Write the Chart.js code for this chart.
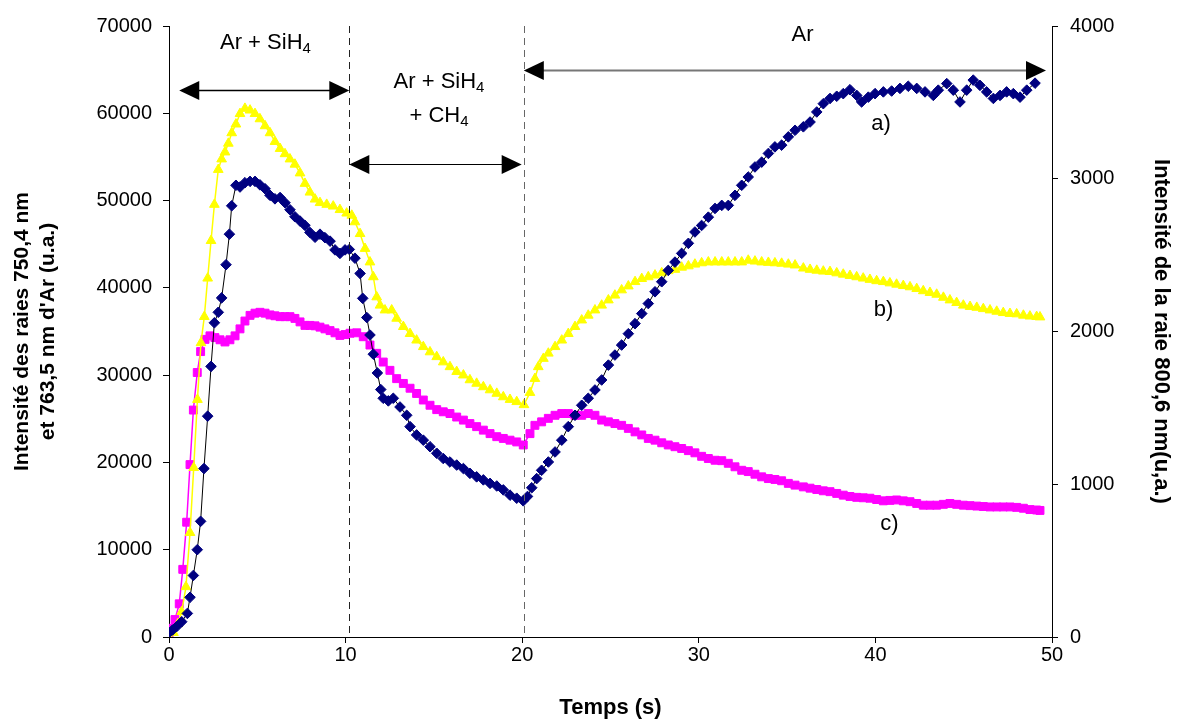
<!DOCTYPE html>
<html>
<head>
<meta charset="utf-8">
<script src="https://cdn.jsdelivr.net/npm/chart.js@4.4.0/dist/chart.umd.min.js"></script>
<style>
html, body { margin: 0; padding: 0; background: #fff; }
#wrap { width: 1189px; height: 724px; position: relative; }
</style>
</head>
<body>
<div id="wrap"><canvas id="plasmaChart"></canvas></div>
<script>
// courbe a) (losanges bleu marine)
const tempsA = [0.0, 0.2, 0.44, 0.72, 1.04, 1.19, 1.38, 1.6, 1.79, 1.98, 2.19, 2.38, 2.57, 2.79, 2.98, 3.23, 3.42, 3.55, 3.79, 4.02,
  4.3, 4.59, 4.87, 5.15, 5.44, 5.72, 6.0, 6.29, 6.57, 6.85, 7.13, 7.42, 7.7, 7.98, 8.27, 8.55, 8.83, 9.12, 9.4, 9.68,
  9.97, 10.21, 10.53, 10.82, 10.97, 11.2, 11.38, 11.57, 11.8, 11.99, 12.13, 12.42, 12.7, 13.08, 13.46, 13.65, 14.02, 14.4, 14.78, 15.16,
  15.53, 15.91, 16.29, 16.67, 17.04, 17.42, 17.8, 18.18, 18.56, 18.93, 19.31, 19.69, 20.06, 20.3, 20.54, 20.82, 21.1, 21.48, 21.86, 22.24,
  22.61, 22.99, 23.37, 23.74, 24.12, 24.5, 24.88, 25.25, 25.63, 26.01, 26.39, 26.77, 27.14, 27.52, 27.9, 28.27, 28.65, 29.03, 29.41, 29.78,
  30.16, 30.54, 30.92, 31.3, 31.67, 32.05, 32.43, 32.8, 33.18, 33.56, 33.94, 34.31, 34.69, 35.07, 35.45, 35.92, 36.3, 36.68, 37.05, 37.43,
  37.81, 38.18, 38.56, 38.94, 39.22, 39.6, 39.98, 40.45, 40.92, 41.39, 41.86, 42.34, 42.81, 43.28, 43.56, 44.04, 44.41, 44.79, 45.17, 45.54,
  45.92, 46.3, 46.68, 47.06, 47.43, 47.81, 48.19, 48.57, 49.04];
const intensA = [500, 800, 1200, 1750, 2700, 4550, 7050, 10000, 13250, 19300, 25300, 31000, 36000, 37200, 38850, 42650, 46150, 49400, 51750, 51550,
  52050, 52200, 52200, 51800, 51350, 50600, 50200, 50350, 49750, 48950, 48150, 47650, 47150, 46350, 45800, 46150, 45750, 45350, 44350, 43950,
  44350, 44400, 43400, 41650, 38800, 36600, 34600, 32400, 30250, 28350, 27350, 27050, 27350, 26350, 25400, 24100, 23150, 22550, 21800, 21050,
  20450, 20050, 19700, 19300, 18750, 18350, 18000, 17600, 17300, 16850, 16250, 15900, 15600, 16100, 17100, 18150, 19100, 20050, 21200, 22550,
  24100, 25400, 26550, 27350, 28300, 29450, 31150, 32300, 33450, 34750, 35900, 37050, 38200, 39550, 40700, 42000, 42950, 43950, 45100, 46400,
  47150, 48100, 49100, 49450, 49450, 50600, 51750, 52700, 53850, 54400, 55400, 56150, 56350, 57300, 58050, 58450, 59000, 60150, 61100, 61700,
  61950, 62250, 62700, 62050, 61300, 61850, 62250, 62450, 62550, 62850, 63100, 62850, 62450, 62050, 62650, 63400, 62650, 61300, 62650, 63800,
  63200, 62450, 61700, 62050, 62450, 62250, 61850, 62650, 63450];

// courbe b) (triangles jaunes)
const tempsB = [0.0, 0.25, 0.5, 0.72, 0.96, 1.19, 1.4, 1.61, 1.81, 2.0, 2.19, 2.38, 2.57, 2.79, 2.98, 3.17, 3.36, 3.55, 3.79, 4.02,
  4.3, 4.59, 4.87, 5.15, 5.44, 5.72, 6.0, 6.29, 6.57, 6.85, 7.13, 7.42, 7.7, 7.98, 8.27, 8.55, 8.93, 9.3, 9.68, 10.06,
  10.35, 10.53, 10.82, 11.1, 11.38, 11.57, 11.76, 11.95, 12.23, 12.61, 12.89, 13.27, 13.65, 14.02, 14.4, 14.78, 15.16, 15.53, 15.91, 16.29,
  16.67, 17.04, 17.42, 17.8, 18.18, 18.56, 18.93, 19.31, 19.69, 20.1, 20.44, 20.72, 20.91, 21.2, 21.48, 21.86, 22.24, 22.61, 22.99, 23.37,
  23.74, 24.12, 24.5, 24.88, 25.25, 25.63, 26.01, 26.39, 26.77, 27.14, 27.52, 27.9, 28.27, 28.65, 29.03, 29.41, 29.78, 30.16, 30.54, 30.92,
  31.3, 31.67, 32.05, 32.43, 32.8, 33.18, 33.56, 33.94, 34.31, 34.69, 35.07, 35.45, 35.92, 36.3, 36.68, 37.05, 37.43, 37.81, 38.18, 38.56,
  38.94, 39.31, 39.69, 40.07, 40.45, 40.82, 41.2, 41.58, 41.96, 42.34, 42.71, 43.09, 43.47, 43.85, 44.22, 44.6, 44.98, 45.36, 45.74, 46.11,
  46.49, 46.87, 47.24, 47.62, 48.0, 48.38, 48.75, 49.13, 49.32];
const intensB = [0, 500, 1500, 2900, 5750, 11950, 19400, 27200, 33700, 36700, 41100, 45400, 49550, 53550, 54750, 55550, 56550, 57750, 58750, 59950,
  60550, 60350, 59950, 59350, 58550, 57750, 56750, 55950, 55350, 54750, 54150, 53150, 51950, 50950, 50150, 49750, 49550, 49350, 48950, 48550,
  48300, 47550, 46200, 44500, 42950, 41250, 38950, 38000, 37450, 37450, 36500, 35550, 34750, 34000, 33250, 32650, 32100, 31500, 30950, 30400,
  30000, 29450, 29050, 28650, 28300, 27900, 27500, 27200, 26950, 26600, 28000, 29600, 30950, 31900, 32500, 33250, 34000, 34750, 35550, 36300,
  36850, 37450, 38000, 38600, 39150, 39750, 40200, 40700, 41050, 41250, 41450, 41700, 41950, 42100, 42350, 42500, 42700, 42850, 42950, 42950,
  42950, 42950, 42950, 42950, 43150, 43050, 42950, 42900, 42850, 42800, 42700, 42600, 42250, 42100, 42000, 41900, 41850, 41700, 41550, 41400,
  41250, 41100, 40950, 40800, 40700, 40550, 40400, 40250, 40100, 39900, 39650, 39450, 39250, 38900, 38600, 38300, 38000, 37850, 37750, 37600,
  37450, 37300, 37150, 37050, 37000, 36850, 36750, 36700, 36650];

// courbe c) (carrés magenta)
const tempsC = [0.0, 0.15, 0.34, 0.58, 0.78, 1.0, 1.19, 1.38, 1.6, 1.79, 2.04, 2.32, 2.6, 2.89, 3.17, 3.45, 3.74, 4.02, 4.3, 4.59,
  4.87, 5.15, 5.44, 5.72, 6.0, 6.29, 6.57, 6.85, 7.13, 7.42, 7.7, 7.98, 8.27, 8.55, 8.83, 9.12, 9.4, 9.68, 9.97, 10.25,
  10.63, 11.0, 11.38, 11.76, 12.13, 12.51, 12.89, 13.27, 13.65, 14.02, 14.4, 14.78, 15.16, 15.53, 15.91, 16.29, 16.67, 17.04, 17.42, 17.8,
  18.18, 18.56, 18.93, 19.31, 19.69, 20.06, 20.44, 20.72, 21.1, 21.48, 21.86, 22.24, 22.61, 22.99, 23.37, 23.74, 24.12, 24.5, 24.88, 25.25,
  25.63, 26.01, 26.39, 26.77, 27.14, 27.52, 27.9, 28.27, 28.65, 29.03, 29.41, 29.78, 30.16, 30.54, 30.92, 31.3, 31.67, 32.05, 32.43, 32.8,
  33.18, 33.56, 33.94, 34.31, 34.69, 35.07, 35.45, 35.92, 36.3, 36.68, 37.05, 37.43, 37.81, 38.18, 38.56, 38.94, 39.31, 39.69, 40.07, 40.45,
  40.82, 41.2, 41.58, 41.96, 42.34, 42.71, 43.09, 43.47, 43.85, 44.22, 44.6, 44.98, 45.36, 45.74, 46.11, 46.49, 46.87, 47.24, 47.62, 48.0,
  48.38, 48.75, 49.13, 49.32];
const intensC = [300, 1000, 2000, 3800, 7750, 13150, 19750, 26000, 30300, 32700, 34100, 34500, 34300, 34050, 33800, 34050, 34500, 35300, 36200, 36850,
  37100, 37200, 37100, 36900, 36800, 36700, 36700, 36700, 36500, 36100, 35700, 35700, 35650, 35500, 35300, 35100, 34850, 34550, 34650, 34800,
  34850, 34400, 33450, 32500, 31500, 30550, 29600, 29050, 28500, 27900, 27150, 26550, 26050, 25800, 25600, 25200, 24850, 24450, 24100, 23700,
  23300, 22950, 22750, 22550, 22350, 22000, 23300, 24250, 24650, 25050, 25400, 25600, 25600, 25400, 25400, 25600, 25400, 24850, 24650, 24450,
  24250, 23900, 23500, 23150, 22750, 22550, 22250, 22000, 21800, 21600, 21350, 21100, 20700, 20450, 20250, 20200, 19900, 19500, 19100, 18950,
  18650, 18350, 18150, 18050, 17900, 17600, 17400, 17200, 17050, 16900, 16750, 16650, 16450, 16250, 16100, 16000, 15950, 15900, 15750, 15600,
  15650, 15700, 15600, 15500, 15300, 15100, 15100, 15100, 15200, 15300, 15200, 15100, 15050, 15000, 14950, 14900, 14900, 14900, 14900, 14850,
  14750, 14600, 14550, 14500];

// changements de gaz (s)
const phaseLimits = [10.21, 20.1];

const toPoints = (ts, vs) => ts.map((t, i) => ({ x: t, y: vs[i] }));

// flèches et textes des phases, en unités des axes
const phaseArrows = [
  { from: 0.58, to: 10.21, at: 62630, color: '#000', width: 1.5 },
  { from: 10.21, to: 19.97, at: 54240, color: '#000', width: 1.2 },
  { from: 20.09, to: 49.66, at: 64920, color: '#777', width: 2 }
];
const phaseTexts = [
  { parts: [['Ar + SiH', false], ['4', true]], t: 5.46, v: 67400 },
  { parts: [['Ar + SiH', false], ['4', true]], t: 15.29, v: 62940 },
  { parts: [['+ CH', false], ['4', true]], t: 15.29, v: 59000 },
  { parts: [['Ar', false]], t: 35.87, v: 68280 },
  { parts: [['a)', false]], t: 40.32, v: 58130 },
  { parts: [['b)', false]], t: 40.46, v: 36750 },
  { parts: [['c)', false]], t: 40.8, v: 12250 }
];

const FONT = '"Liberation Sans", Arial, sans-serif';

function drawArrow(ctx, x1, x2, y, color, width) {
  const head = 20, half = 9.5;
  ctx.strokeStyle = color;
  ctx.lineWidth = width;
  ctx.beginPath();
  ctx.moveTo(x1 + head - 2, y);
  ctx.lineTo(x2 - head + 2, y);
  ctx.stroke();
  ctx.fillStyle = '#000';
  ctx.beginPath();
  ctx.moveTo(x1, y);
  ctx.lineTo(x1 + head, y - half);
  ctx.lineTo(x1 + head, y + half);
  ctx.closePath();
  ctx.fill();
  ctx.beginPath();
  ctx.moveTo(x2, y);
  ctx.lineTo(x2 - head, y - half);
  ctx.lineTo(x2 - head, y + half);
  ctx.closePath();
  ctx.fill();
}

function drawText(ctx, parts, cx, baseY) {
  const mainFont = '22px ' + FONT, subFont = '15px ' + FONT;
  let total = 0;
  parts.forEach(p => {
    ctx.font = p[1] ? subFont : mainFont;
    total += ctx.measureText(p[0]).width;
  });
  let x = cx - total / 2;
  ctx.fillStyle = '#000';
  ctx.textAlign = 'left';
  ctx.textBaseline = 'alphabetic';
  parts.forEach(p => {
    ctx.font = p[1] ? subFont : mainFont;
    ctx.fillText(p[0], x, p[1] ? baseY + 4 : baseY);
    x += ctx.measureText(p[0]).width;
  });
}

const phasePlugin = {
  id: 'phases',
  afterDatasetsDraw(chart) {
    const ctx = chart.ctx;
    const xs = chart.scales.x, ys = chart.scales.y;
    const area = chart.chartArea;
    ctx.save();
    phaseLimits.forEach((t, i) => {
      const px = Math.round(xs.getPixelForValue(t)) + 0.5;
      ctx.beginPath();
      ctx.setLineDash([7, 5]);
      ctx.strokeStyle = i === 0 ? '#222' : '#666';
      ctx.lineWidth = 1;
      ctx.moveTo(px, area.top);
      ctx.lineTo(px, area.bottom);
      ctx.stroke();
    });
    ctx.setLineDash([]);
    phaseArrows.forEach(a => {
      drawArrow(ctx, xs.getPixelForValue(a.from), xs.getPixelForValue(a.to),
        Math.round(ys.getPixelForValue(a.at)) + 0.5, a.color, a.width);
    });
    phaseTexts.forEach(tx => {
      drawText(ctx, tx.parts, xs.getPixelForValue(tx.t), ys.getPixelForValue(tx.v));
    });
    ctx.restore();
  }
};

const tickFont = { family: FONT, size: 20 };
const titleFont = { family: FONT, size: 22, weight: 'bold' };

new Chart(document.getElementById('plasmaChart'), {
  type: 'line',
  data: {
    datasets: [
      {
        label: 'a)',
        data: toPoints(tempsA, intensA),
        borderColor: '#000',
        borderWidth: 1,
        pointStyle: 'rectRot',
        pointRadius: 5.3,
        pointBackgroundColor: '#000080',
        pointBorderColor: '#000080',
        pointBorderWidth: 1
      },
      {
        label: 'b)',
        data: toPoints(tempsB, intensB),
        borderColor: '#FFFF00',
        borderWidth: 1.5,
        pointStyle: 'triangle',
        pointRadius: 5.6,
        pointBackgroundColor: '#FFFF00',
        pointBorderColor: '#FFFF00',
        pointBorderWidth: 1
      },
      {
        label: 'c)',
        data: toPoints(tempsC, intensC),
        borderColor: '#FF00FF',
        borderWidth: 1.5,
        pointStyle: 'rect',
        pointRadius: 5.6,
        pointBackgroundColor: '#FF00FF',
        pointBorderColor: '#FF00FF',
        pointBorderWidth: 1
      }
    ]
  },
  options: {
    responsive: true,
    maintainAspectRatio: false,
    animation: false,
    layout: { padding: { top: 26, right: 0, bottom: 0, left: 0 } },
    plugins: { legend: { display: false }, tooltip: { enabled: false } },
    scales: {
      x: {
        type: 'linear', min: 0, max: 50,
        afterFit: s => { s.height = 87; },
        ticks: { stepSize: 10, autoSkip: false, maxRotation: 0, color: '#000', font: tickFont, padding: 0,
          callback: v => String(v) },
        grid: { drawOnChartArea: false, drawTicks: true, tickLength: 6, color: '#000' },
        border: { display: true, color: '#000', width: 1 },
        title: { display: true, text: 'Temps (s)', color: '#000', font: titleFont, padding: { top: 0, bottom: 3 } }
      },
      y: {
        position: 'left', min: 0, max: 70000,
        afterFit: s => { s.width = 169; },
        ticks: { stepSize: 10000, autoSkip: false, color: '#000', font: tickFont, padding: 11,
          callback: v => String(v) },
        grid: { drawOnChartArea: false, drawTicks: true, tickLength: 6, color: '#000' },
        border: { display: true, color: '#000', width: 1 },
        title: { display: true, text: ['Intensité des raies 750,4 nm', "et 763,5 nm d'Ar (u.a.)"], color: '#000',
          font: { family: FONT, size: 21, weight: 'bold', lineHeight: 1.24 }, padding: { top: 9, bottom: 0 } }
      },
      y2: {
        position: 'right', min: 0, max: 4000,
        afterFit: s => { s.width = 137; },
        ticks: { stepSize: 1000, autoSkip: false, color: '#000', font: tickFont, padding: 12,
          callback: v => String(v) },
        grid: { drawOnChartArea: false, drawTicks: true, tickLength: 6, color: '#000' },
        border: { display: true, color: '#000', width: 1 },
        title: { display: true, text: 'Intensité de la raie 800,6 nm(u,a.)', color: '#000',
          font: titleFont, padding: { top: 15, bottom: 0 } }
      }
    }
  },
  plugins: [phasePlugin]
});
</script>
</body>
</html>
